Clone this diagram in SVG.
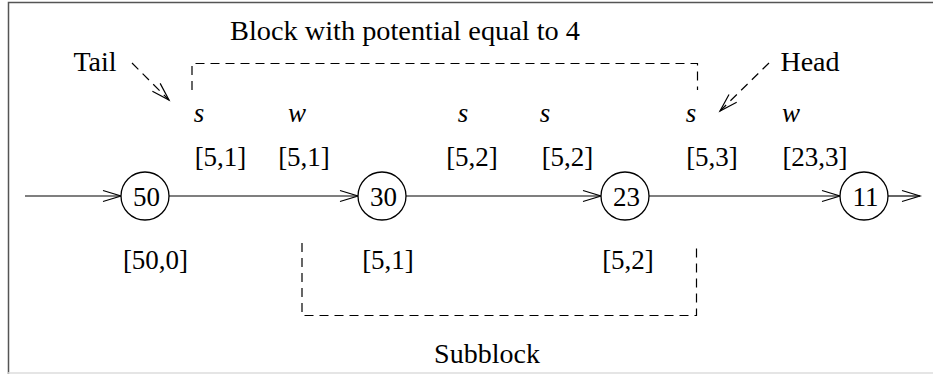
<svg xmlns="http://www.w3.org/2000/svg" width="933" height="374" viewBox="0 0 933 374" font-family="Liberation Serif, serif">
<style>
text{font-family:'Liberation Serif',serif;font-size:27px;fill:#000;text-anchor:middle}
.w{font-size:28px}
.i{font-style:italic}
.n circle{fill:#fff;stroke:#000;stroke-width:1.3}
.c{stroke:#000;stroke-width:1.2;fill:none}
.d{stroke:#000;stroke-width:1.2;fill:none;stroke-dasharray:9 6}
</style>
<defs>
<marker id="a" markerUnits="userSpaceOnUse" orient="auto" refX="0" refY="0" markerWidth="30" markerHeight="20" viewBox="-20 -10 30 20" overflow="visible">
<path d="M-18,-5.5 L0,0 L-18,5.5" fill="none" stroke="#000" stroke-width="1.2"/>
</marker>
</defs>
<rect width="933" height="374" fill="#fff"/>
<path d="M8.5,374 V2.5 H933" fill="none" stroke="#555" stroke-width="1.5"/>
<path d="M8,373 H933" stroke="#ddd" stroke-width="1.5"/>
<g id="connectors">
<path class="c" d="M25,196 H121" marker-end="url(#a)"/>
<path class="c" d="M169,196 H358" marker-end="url(#a)"/>
<path class="c" d="M406,196 H601" marker-end="url(#a)"/>
<path class="c" d="M649,196 H840" marker-end="url(#a)"/>
<path class="c" d="M888,196 H920" marker-end="url(#a)"/>
<path class="d" d="M132,63 L169,100" marker-end="url(#a)"/>
<path class="d" d="M769,63 L720,111" marker-end="url(#a)"/>
</g>
<g id="block">
<path class="d" d="M192,90 V63.5 H697.5 V90"/>
<text class="w" x="405" y="40" textLength="350" lengthAdjust="spacingAndGlyphs">Block with potential equal to 4</text>
</g>
<g id="subblock">
<path class="d" d="M302,243 V315.5 H696.5 V243"/>
<text class="w" x="487" y="363">Subblock</text>
</g>
<g id="tail"><text class="w" x="95" y="71">Tail</text></g>
<g id="head"><text class="w" x="810" y="71">Head</text></g>
<g id="labels">
<text class="i" x="199" y="122">s</text>
<text class="i" x="297" y="122">w</text>
<text class="i" x="463" y="122">s</text>
<text class="i" x="545" y="122">s</text>
<text class="i" x="691" y="122">s</text>
<text class="i" x="791" y="122">w</text>
<text x="220.5" y="166">[5,1]</text>
<text x="304" y="166">[5,1]</text>
<text x="472" y="166">[5,2]</text>
<text x="567.5" y="166">[5,2]</text>
<text x="712" y="166">[5,3]</text>
<text x="815" y="166">[23,3]</text>
<text x="155.5" y="269">[50,0]</text>
<text x="388" y="269">[5,1]</text>
<text x="628" y="269">[5,2]</text>
</g>
<g id="n50" class="n"><circle cx="145" cy="196" r="24"/><text x="146.5" y="206">50</text></g>
<g id="n30" class="n"><circle cx="382" cy="196" r="24"/><text x="383.5" y="206">30</text></g>
<g id="n23" class="n"><circle cx="625" cy="196" r="24"/><text x="626.5" y="206">23</text></g>
<g id="n11" class="n"><circle cx="864" cy="196" r="24"/><text x="865.5" y="206">11</text></g>
</svg>
